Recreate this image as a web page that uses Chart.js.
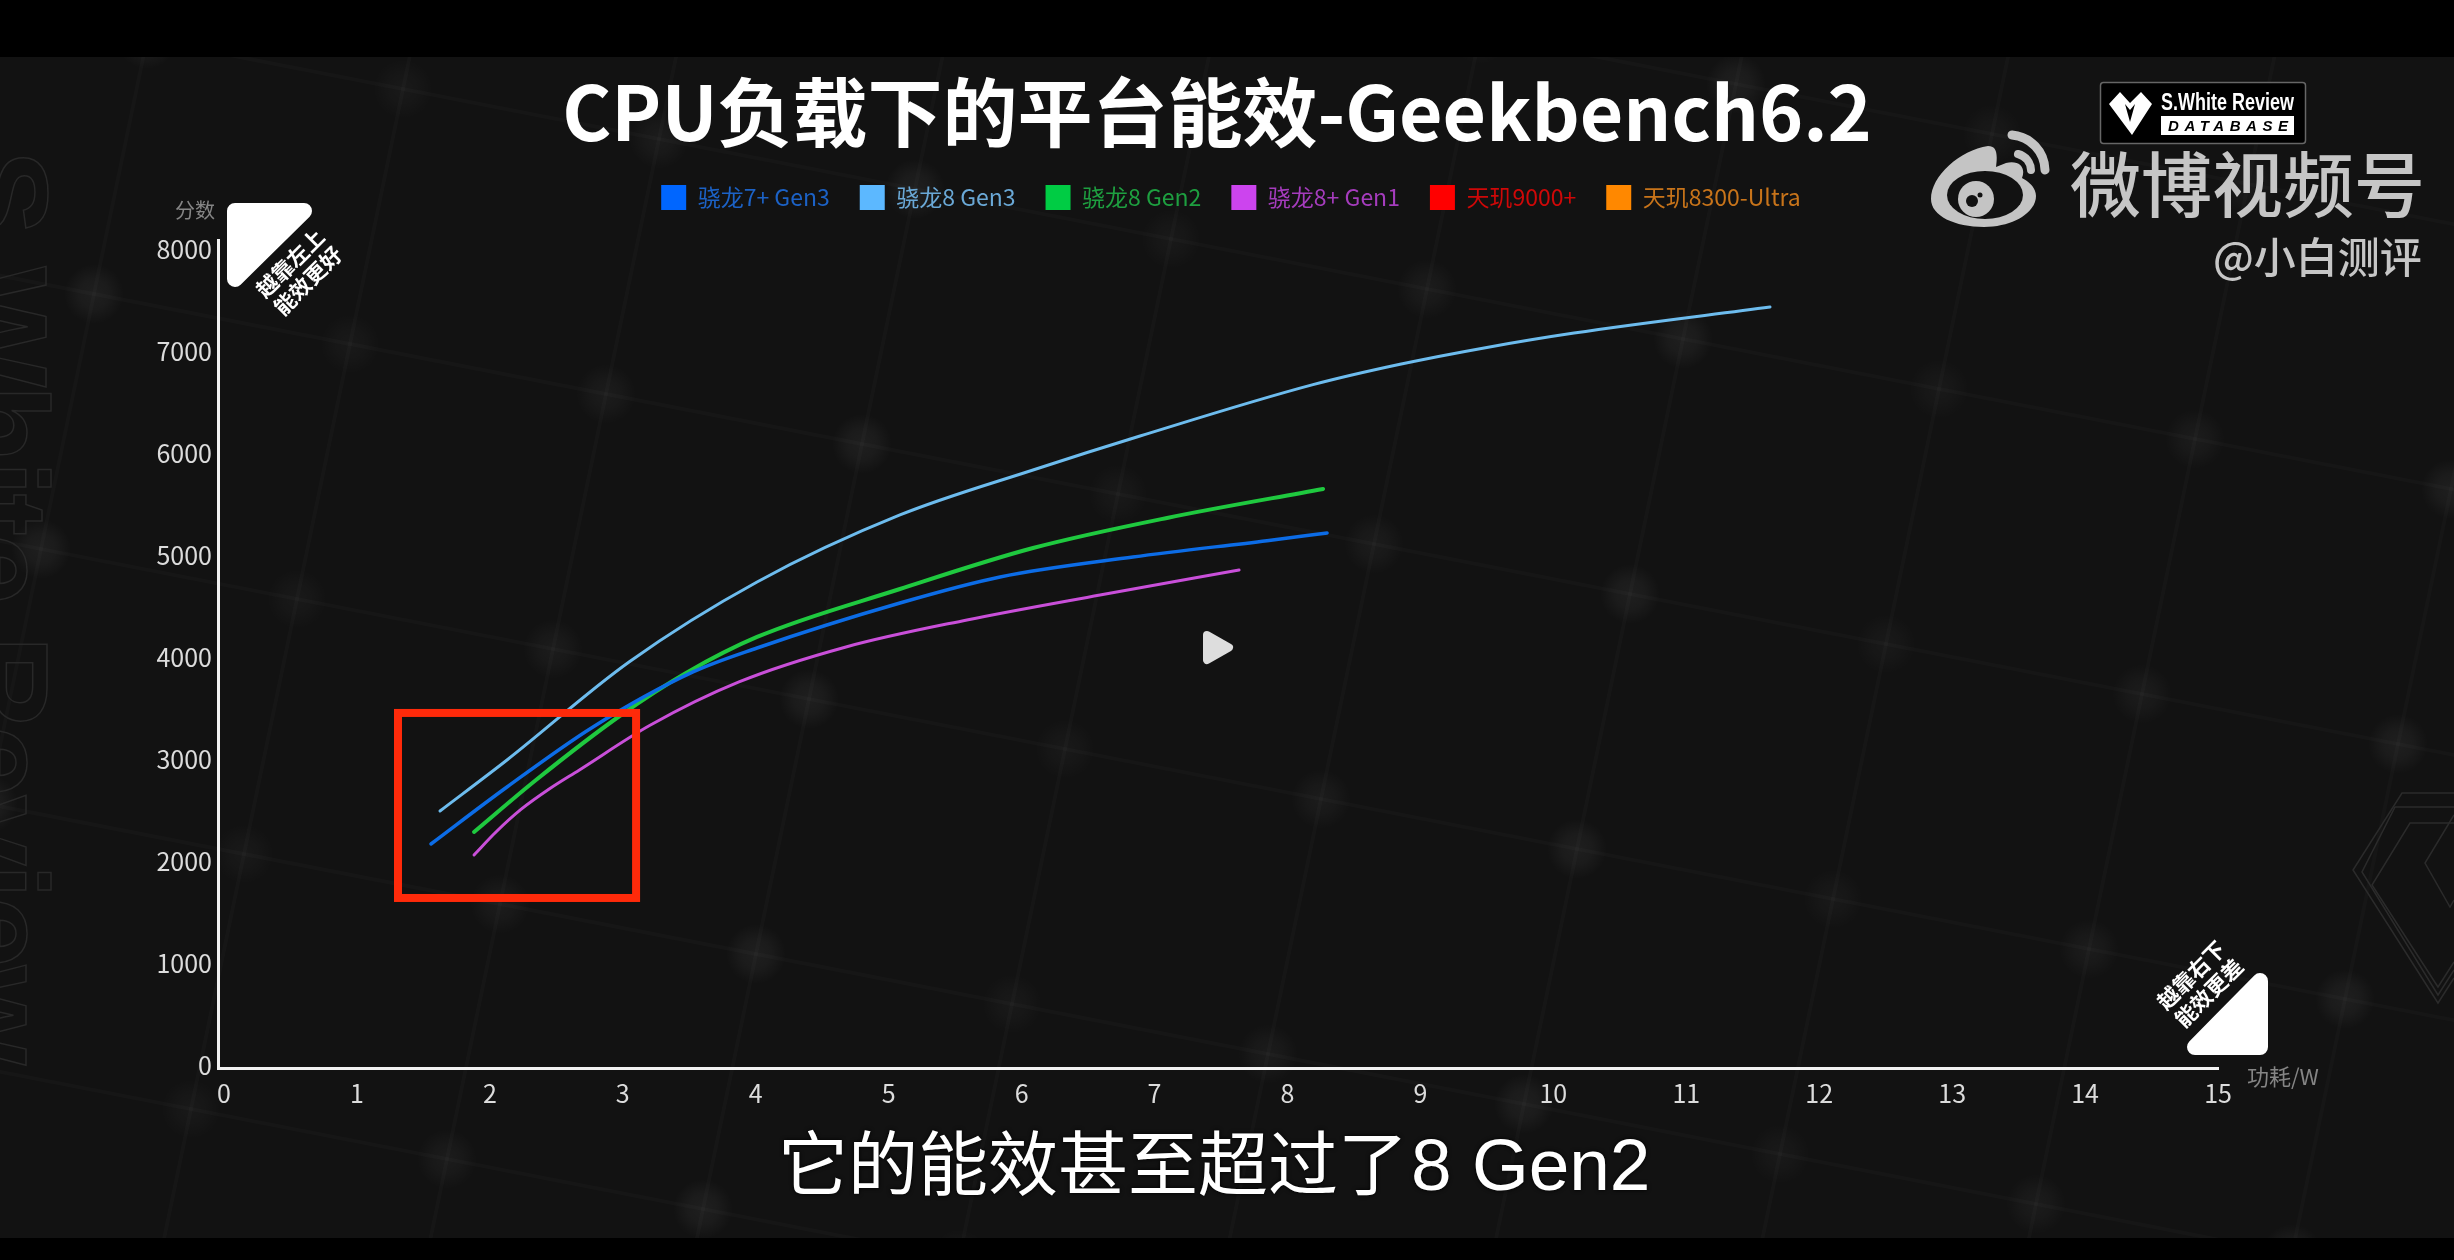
<!DOCTYPE html>
<html lang="zh">
<head>
<meta charset="utf-8">
<title>CPU负载下的平台能效</title>
<script src="https://cdn.jsdelivr.net/npm/chart.js@4"></script>
<style>
    html, body { margin: 0; padding: 0; background: #000; }
    #wrap { position: relative; width: 2454px; height: 1260px; overflow: hidden; font-family: "Noto Sans CJK SC", sans-serif; }
    #grafico { position: absolute; left: 0; top: 0; }
    #overlay { position: absolute; left: 0; top: 0; }
    .txt { position: absolute; white-space: nowrap; }
    .aviso { font-size: 21.5px; font-weight: 700; line-height: 25px; color: #fff; text-align: center; transform: translate(-50%, -50%) rotate(-45deg); }
</style>
</head>
<body>
<div id="wrap">
    <canvas id="grafico" width="2454" height="1260"></canvas>

    <svg id="overlay" width="2454" height="1260" viewBox="0 0 2454 1260">
        <!-- marca d'agua lateral -->
        <text transform="translate(-42,150) rotate(90)" font-family="Liberation Sans" font-weight="700" font-size="128" fill="none" stroke="#282828" stroke-width="1.5" textLength="915">S White Review</text>
        <g fill="none" stroke="#2b2b2b" stroke-width="1.5">
            <polyline points="2454,793 2402,793 2353,870 2438,1003 2454,978"/>
            <polyline points="2454,807 2395,807 2362,872 2438,995 2454,970"/>
            <polyline points="2454,823 2410,823 2372,885 2438,987 2454,962"/>
            <polyline points="2454,815 2425,863 2450,907 2454,900"/>
        </g>
        <!-- triangulos -->
        <polygon points="235,211 304,211 235,279" fill="#fff" stroke="#fff" stroke-width="16" stroke-linejoin="round"/>
        <polygon points="2260,981 2260,1047 2195,1047" fill="#fff" stroke="#fff" stroke-width="16" stroke-linejoin="round"/>
        <!-- play -->
        <polygon points="1207,635 1229,647.5 1207,660" fill="#ddd" stroke="#ddd" stroke-width="8" stroke-linejoin="round"/>
        <!-- logo S.White -->
        <rect x="2100.5" y="82.5" width="205" height="61" rx="3" fill="#000" stroke="#666" stroke-width="1.5"/>
        <path d="M2109 104 L2120 92 L2130 103 L2141 92 L2152 104 L2132 135 Z" fill="#fff"/>
        <path d="M2125 104 L2130 110 L2135 104 L2130 122 Z" fill="#000"/>
        <text x="2161" y="110" font-family="Liberation Sans Narrow, Liberation Sans" font-weight="700" font-size="23" fill="#fff" textLength="133" lengthAdjust="spacingAndGlyphs">S.White Review</text>
        <rect x="2161" y="116" width="133" height="19" fill="#fff"/>
        <text x="2168" y="131" font-family="Liberation Sans" font-weight="700" font-style="italic" font-size="15" fill="#000" textLength="120">DATABASE</text>
        <!-- logo weibo -->
        <path d="M1988 146 C1960 150 1931 176 1931 199 C1931 216 1955 227 1984 227 C2014 227 2036 212 2036 196 C2036 186 2026 180 2022 178 C2026 168 2020 160 2006 163 L1996 167 C1998 152 1996 146 1988 146 Z" fill="#c4c4c4"/>
        <ellipse cx="1985" cy="195" rx="38" ry="24" fill="#121212"/>
        <circle cx="1976" cy="199" r="18" fill="#c4c4c4"/>
        <circle cx="1972" cy="201" r="6" fill="#121212"/>
        <circle cx="1980" cy="195" r="2.5" fill="#121212"/>
        <path d="M2012 135 A36 36 0 0 1 2045 170" fill="none" stroke="#c4c4c4" stroke-width="9" stroke-linecap="round"/>
        <path d="M2018 154 A17 17 0 0 1 2031 170" fill="none" stroke="#c4c4c4" stroke-width="8" stroke-linecap="round"/>
    </svg>

    <div class="txt" style="left:175px;top:195px;font-size:20px;line-height:30px;color:#858585;">分数</div>
    <div class="txt" style="left:2247px;top:1060px;font-size:22px;line-height:30px;color:#858585;">功耗/W</div>
    <div class="txt aviso" style="left:298px;top:271px;">越靠左上<br>能效更好</div>
    <div class="txt aviso" style="left:2199px;top:983px;">越靠右下<br>能效更差</div>
    <div class="txt" style="left:2070px;top:130px;font-size:71px;line-height:100px;font-weight:500;color:#c6c6c6;">微博视频号</div>
    <div class="txt" style="left:2213px;top:228px;font-size:42px;line-height:54px;font-weight:500;color:#c6c6c6;">@小白测评</div>
    <div class="txt" style="left:778px;top:1115px;font-size:70px;line-height:100px;color:#fff;font-family:'Liberation Sans','Noto Sans CJK SC',sans-serif;text-shadow:0 0 4px #000;">它的能效甚至超过了<span style="font-size:73px;margin-left:3px;">8 Gen2</span></div>
</div>

<script>
const titulo = 'CPU负载下的平台能效-Geekbench6.2';
const series = ['骁龙7+ Gen3', '骁龙8 Gen3', '骁龙8 Gen2', '骁龙8+ Gen1', '天玑9000+', '天玑8300-Ultra'];
const coresLinha = ['#0c6ce6', '#6dbcee', '#1fc93f', '#c94fd9', '#ff0000', '#ff8a00'];
const coresCaixa = ['#0066ff', '#5cb8ff', '#00cc44', '#cc44ee', '#ff0000', '#ff8800'];
const coresTexto = ['#1c62c6', '#6aa8d6', '#1e9f40', '#a53cbd', '#cf0808', '#c8741a'];
const espessura = [3.5, 3, 4, 3, 3, 3];

const xTicks = [0, 1, 2, 3, 4, 5, 6, 7, 8, 9, 10, 11, 12, 13, 14, 15];
const yTicks = [0, 1000, 2000, 3000, 4000, 5000, 6000, 7000, 8000];

// valores
const x7pG3 = [1.557, 2.129, 2.776, 3.528, 4.010, 5.085, 5.838, 6.838, 7.846, 8.298];
const y7pG3 = [2176, 2735, 3324, 3863, 4098, 4539, 4794, 4990, 5150, 5225];

const x8G3 = [1.625, 2.129, 3.047, 4.010, 5.085, 6.086, 6.891, 8.192, 8.847, 9.500, 10.156, 11.630];
const y8G3 = [2500, 3000, 3961, 4745, 5402, 5843, 6176, 6680, 6880, 7045, 7186, 7441];

const x8G2 = [1.881, 2.347, 2.987, 3.476, 4.010, 5.085, 6.086, 7.094, 8.268];
const y8G2 = [2294, 2804, 3441, 3853, 4206, 4676, 5078, 5373, 5657];

const x8pG1 = [1.881, 2.046, 2.234, 2.452, 2.671, 3.205, 3.874, 4.679, 5.589, 6.590, 7.636];
const y8pG1 = [2069, 2294, 2515, 2720, 2900, 3340, 3765, 4108, 4373, 4618, 4863];

// destaque vermelho em unidades do grafico
const destaqueX = [1.309, 3.10];
const destaqueY = [1647, 3461];

function pontos(xs, ys) {
    return xs.map((x, i) => ({ x: x, y: ys[i] }));
}

const dadosSeries = [pontos(x7pG3, y7pG3), pontos(x8G3, y8G3), pontos(x8G2, y8G2), pontos(x8pG1, y8pG1), [], []];

// fundo escuro com a malha inclinada
const fundo = {
    id: 'fundo',
    beforeDraw(chart) {
        const ctx = chart.ctx;
        ctx.save();
        ctx.fillStyle = '#000';
        ctx.fillRect(0, 0, 2454, 1260);
        ctx.fillStyle = '#121212';
        ctx.fillRect(0, 57, 2454, 1181);
        ctx.beginPath();
        ctx.rect(0, 57, 2454, 1181);
        ctx.clip();
        const ux = 256, uy = 50, vx = -53, vy = 255;
        ctx.strokeStyle = 'rgba(255,255,255,0.018)';
        ctx.lineWidth = 4;
        for (let j = -4; j <= 4; j++) {
            ctx.beginPath();
            ctx.moveTo(297 + j * vx - 3 * ux, 599 + j * vy - 3 * uy);
            ctx.lineTo(297 + j * vx + 12 * ux, 599 + j * vy + 12 * uy);
            ctx.stroke();
        }
        for (let i = -3; i <= 12; i++) {
            ctx.beginPath();
            ctx.moveTo(297 + i * ux - 5 * vx, 599 + i * uy - 5 * vy);
            ctx.lineTo(297 + i * ux + 5 * vx, 599 + i * uy + 5 * vy);
            ctx.stroke();
        }
        for (let i = -3; i <= 12; i++) {
            for (let j = -4; j <= 4; j++) {
                const px = 297 + i * ux + j * vx;
                const py = 599 + i * uy + j * vy;
                const brilho = 0.03 + ((i * 7 + j * 3 + 30) % 3) * 0.012;
                const g = ctx.createRadialGradient(px, py, 0, px, py, 30);
                g.addColorStop(0, 'rgba(255,255,255,' + brilho + ')');
                g.addColorStop(0.5, 'rgba(255,255,255,' + brilho * 0.7 + ')');
                g.addColorStop(1, 'rgba(255,255,255,0)');
                ctx.fillStyle = g;
                ctx.fillRect(px - 30, py - 30, 60, 60);
            }
        }
        ctx.restore();
    }
};

const destaque = {
    id: 'destaque',
    // legenda um pouco a direita do titulo, como no original
    afterLayout(chart) {
        chart.legend.left += 14;
        chart.legend.right += 14;
    },
    afterDatasetsDraw(chart) {
        const { ctx, scales } = chart;
        const x1 = scales.x.getPixelForValue(destaqueX[0]);
        const x2 = scales.x.getPixelForValue(destaqueX[1]);
        const y1 = scales.y.getPixelForValue(destaqueY[1]);
        const y2 = scales.y.getPixelForValue(destaqueY[0]);
        ctx.save();
        ctx.strokeStyle = '#ff2a0a';
        ctx.lineWidth = 8;
        ctx.strokeRect(x1, y1, x2 - x1, y2 - y1);
        ctx.restore();
    }
};

new Chart(document.getElementById('grafico').getContext('2d'), {
    type: 'line',
    data: {
        datasets: series.map((nome, i) => ({
            label: nome,
            data: dadosSeries[i],
            borderColor: coresLinha[i],
            backgroundColor: coresCaixa[i],
            borderWidth: espessura[i],
            borderCapStyle: 'round',
            pointRadius: 0,
            cubicInterpolationMode: 'monotone'
        }))
    },
    plugins: [fundo, destaque],
    options: {
        responsive: false,
        devicePixelRatio: 1,
        animation: false,
        layout: { padding: { left: 0, right: 20, top: 0, bottom: 0 } },
        plugins: {
            tooltip: { enabled: false },
            title: {
                display: true,
                text: titulo,
                color: '#fff',
                font: { family: '"Noto Sans CJK SC"', size: 75, weight: '700', lineHeight: 1 },
                padding: { top: 75, bottom: 5 }
            },
            legend: {
                display: true,
                position: 'top',
                onClick: null,
                labels: {
                    boxWidth: 25,
                    boxHeight: 25,
                    padding: 30,
                    font: { family: '"Noto Sans CJK SC"', size: 23 },
                    generateLabels: () => series.map((nome, i) => ({
                        text: nome,
                        fillStyle: coresCaixa[i],
                        strokeStyle: coresCaixa[i],
                        fontColor: coresTexto[i],
                        lineWidth: 0,
                        datasetIndex: i
                    }))
                }
            }
        },
        scales: {
            x: {
                type: 'linear',
                min: -0.045,
                max: 15,
                afterBuildTicks: s => { s.ticks = xTicks.map(v => ({ value: v })); },
                afterFit: s => { s.height = 192; },
                grid: { display: false, drawTicks: false },
                border: { color: '#f2f2f2', width: 3 },
                ticks: {
                    color: '#dcdcdc',
                    autoSkip: false,
                    maxRotation: 0,
                    padding: 10,
                    font: { family: '"Noto Sans CJK SC"', size: 25 },
                    callback: v => String(v)
                }
            },
            y: {
                type: 'linear',
                min: -20,
                max: 8098,
                afterBuildTicks: s => { s.ticks = yTicks.map(v => ({ value: v })); },
                afterFit: s => { s.width = 218; },
                grid: { display: false, drawTicks: false },
                border: { color: '#f2f2f2', width: 3 },
                ticks: {
                    color: '#dcdcdc',
                    autoSkip: false,
                    padding: 6,
                    font: { family: '"Noto Sans CJK SC"', size: 25 },
                    callback: v => String(v)
                }
            },
            // eixos vazios, so reservam as margens de cima e da direita
            margem: {
                type: 'linear',
                position: 'right',
                afterFit: s => { s.width = 216; },
                grid: { display: false },
                border: { display: false },
                ticks: { display: false }
            },
            margemTopo: {
                type: 'linear',
                position: 'top',
                afterFit: s => { s.height = 20; },
                grid: { display: false },
                border: { display: false },
                ticks: { display: false }
            }
        }
    }
});
</script>
</body>
</html>
